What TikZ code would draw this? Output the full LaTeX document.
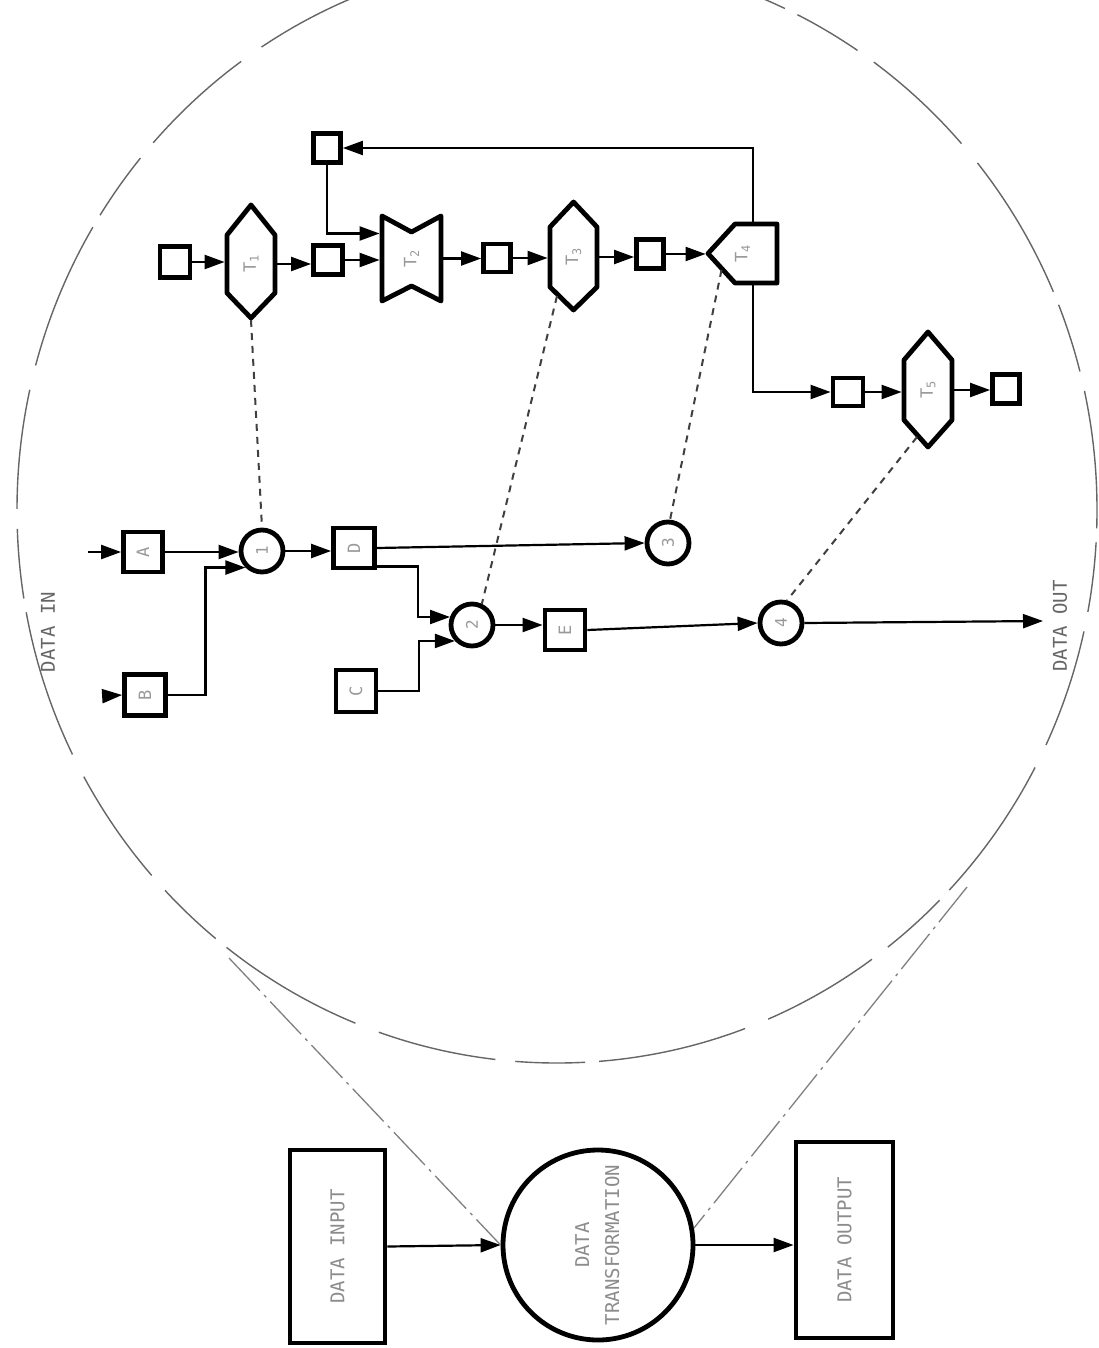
\documentclass[tikz,border=0pt]{standalone}
\usepackage{fontspec}
\usepackage{graphicx}
\newfontfamily\lblfont{DejaVu Sans Mono}
\usetikzlibrary{arrows.meta,calc}
\newcommand{\rotlbl}[1]{\rotatebox{90}{#1}}
\begin{document}
\begin{tikzpicture}[x=1pt,y=-1pt,
  conn/.style={line width=2.2pt},
  arr/.style={conn,-{Triangle[length=20pt,width=14pt]}},
  bx/.style={draw,line width=4.8pt,rectangle,inner sep=0pt,text=black!40,font=\lblfont\fontsize{17}{17}\selectfont},
  crc/.style={draw,line width=4.8pt,circle,inner sep=0pt,minimum size=42pt,text=black!40,font=\lblfont\fontsize{16}{16}\selectfont},
  anch/.style={inner sep=0pt,outer sep=2.4pt,rectangle,text=black!40,font=\lblfont\fontsize{17}{17}\selectfont},
  shp/.style={draw,line width=4.8pt,line join=round},
  dsh/.style={line width=2pt,dash pattern=on 7pt off 6pt,draw=black!75},
  ddot/.style={line width=1.3pt,draw=black!50,dash pattern=on 45pt off 6pt on 3pt off 6pt},
  big/.style={draw=black!60,line width=1.4pt,dash pattern=on 120pt off 20pt on 70pt off 14pt on 150pt off 25pt},
  ttl/.style={text=black!60,font=\lblfont\fontsize{19}{19}\selectfont,rotate=90},
  btxt/.style={text=black!45,font=\lblfont\fontsize{19}{30}\selectfont}
]
\useasboundingbox (0,0) rectangle (1099,1348);
\fill[white] (0,0) rectangle (1099,1348);

% big dashed circle
\draw[big] (557,510) ellipse [x radius=540pt, y radius=553pt];

% ---------- bottom overview ----------
\node[bx,btxt,minimum width=95pt,minimum height=193pt] (DIN) at (337.5,1246.5) {\rotlbl{DATA INPUT}};
\node[crc,btxt,minimum size=190pt] (DT) at (598,1245) {\rotlbl{\begin{tabular}{c}DATA\\TRANSFORMATION\end{tabular}}};
\node[bx,btxt,minimum width=97pt,minimum height=196pt] (DOUT) at (844.5,1240) {\rotlbl{DATA OUTPUT}};
\draw[arr] (DIN.east) -- (DT.west);
\draw[arr] (DT.east) -- (DT.east -| DOUT.west);
\coordinate (L1) at (229,958);
\coordinate (R1) at (967,887);
\draw[ddot] (L1) -- (DT.west);
\draw[ddot] (R1) -- (DT.10);

% ---------- left network ----------
\node[ttl] (din) at (48,632) {DATA IN};
\node[ttl] (dout) at (1060,626) {DATA OUT};

\node[bx,minimum width=39pt,minimum height=40pt] (A) at (143,552) {\rotlbl{A}};
\node[bx,minimum width=41pt,minimum height=41pt] (B) at (145,695) {\rotlbl{B}};
\node[crc] (c1) at (262,551) {\rotlbl{1}};
\node[bx,minimum width=41pt,minimum height=40pt] (D) at (354,548) {\rotlbl{D}};
\node[crc] (c2) at (472,625) {\rotlbl{2}};
\node[bx,minimum width=40pt,minimum height=42pt] (C) at (356,691) {\rotlbl{C}};
\node[bx,minimum width=40pt,minimum height=40pt] (E) at (565,630) {\rotlbl{E}};
\node[crc] (c3) at (668,543) {\rotlbl{3}};
\node[crc] (c4) at (781,623) {\rotlbl{4}};

\coordinate (inA) at (88,552);
\coordinate (inB) at (105,696);
\coordinate (outC) at (1043,621);
\draw[arr] (inA) -- (A.west);
\draw[arr] (inB) -- (B.west);
\draw[arr] (A.east) -- (A.east -| c1.west);
\draw[arr] (B.east) -| ($(c1.south west)+(-40,0)$) -- (c1.south west);
\draw[arr] (c1.east) -- (c1.east -| D.west);
\draw[arr] (D.east) -- (c3.west);
\draw[arr] ($(D.south east)+(0,-4)$) -| ($(c2.160)+(-32,0)$) -- (c2.160);
\draw[arr] (C.east) -| ($(c2.-137)+(-36,0)$) -- (c2.-137);
\draw[arr] (c2.east) -- (c2.east -| E.west);
\draw[arr] (E.east) -- (c4.west);
\draw[arr] (c4.east) -- (outC);

% ---------- top row ----------
\node[bx,minimum width=30pt,minimum height=31pt] (S1) at (175,262) {};
\node[bx,minimum width=29pt,minimum height=29pt] (S2) at (328,260) {};
\node[bx,minimum width=27pt,minimum height=29pt] (S0) at (327,148) {};
\node[bx,minimum width=27pt,minimum height=28pt] (S3) at (497,258) {};
\node[bx,minimum width=27pt,minimum height=29pt] (S4) at (650,254) {};
\node[bx,minimum width=30pt,minimum height=28pt] (S5) at (848,392) {};
\node[bx,minimum width=27pt,minimum height=29pt] (S6) at (1006,389) {};

\node[anch,minimum width=48pt,minimum height=58pt] (T1) at (251,264) {\rotlbl{T\textsubscript{1}}};
\draw[shp] (227,235) -- (251,205) -- (275,235) -- (275,293) -- (251,318) -- (227,293) -- cycle;
\node[anch,minimum width=59pt,minimum height=85pt] (T2) at (411.5,258.5) {\rotlbl{T\textsubscript{2}}};
\draw[shp] (382,216) -- (411.5,232) -- (441,216) -- (441,301) -- (411.5,286) -- (382,301) -- cycle;
\node[anch,minimum width=47pt,minimum height=60pt] (T3) at (573.5,257) {\rotlbl{T\textsubscript{3}}};
\draw[shp] (550,227) -- (573.5,202) -- (597,227) -- (597,287) -- (573.5,310) -- (550,287) -- cycle;
\node[anch,minimum width=69pt,minimum height=59pt] (T4) at (742.5,253.5) {\rotlbl{T\textsubscript{4}}};
\draw[shp] (708,253.5) -- (735,224) -- (777,224) -- (777,283) -- (735,283) -- cycle;
\node[anch,minimum width=48pt,minimum height=60pt] (T5) at (928,390) {\rotlbl{T\textsubscript{5}}};
\draw[shp] (904,360) -- (928,332) -- (952,360) -- (952,420) -- (928,447) -- (904,420) -- cycle;

\draw[arr] (S1.east) -- (S1.east -| T1.west);
\draw[arr] (T1.east) -- (T1.east -| S2.west);
\draw[arr] (S2.east) -- (S2.east -| T2.west);
\draw[arr] (S0.south) |- ($(T2.west)+(0,-25)$);
\draw[arr] (T2.east) -- (T2.east -| S3.west);
\draw[arr] (S3.east) -- (S3.east -| T3.west);
\draw[arr] (T3.east) -- (T3.east -| S4.west);
\draw[arr] (S4.east) -- (S4.east -| T4.west);
\coordinate (T4t) at (753,222);
\coordinate (T4b) at (753,285);
\draw[arr] (T4t) |- (S0.east);
\draw[arr] (T4b) |- (S5.west);
\draw[arr] (S5.east) -- (S5.east -| T5.west);
\draw[arr] (T5.east) -- (T5.east -| S6.west);

% dashed links
\coordinate (T1b) at (251,320);
\coordinate (T3d) at (557,296);
\coordinate (T4d) at (721.5,270);
\coordinate (T5d) at (917,437);
\draw[dsh] (T1b) -- (c1.north);
\draw[dsh] (T3d) -- (c2.65);
\draw[dsh] (T4d) -- (c3.85);
\draw[dsh] (T5d) -- (c4.75);
\end{tikzpicture}
\end{document}
